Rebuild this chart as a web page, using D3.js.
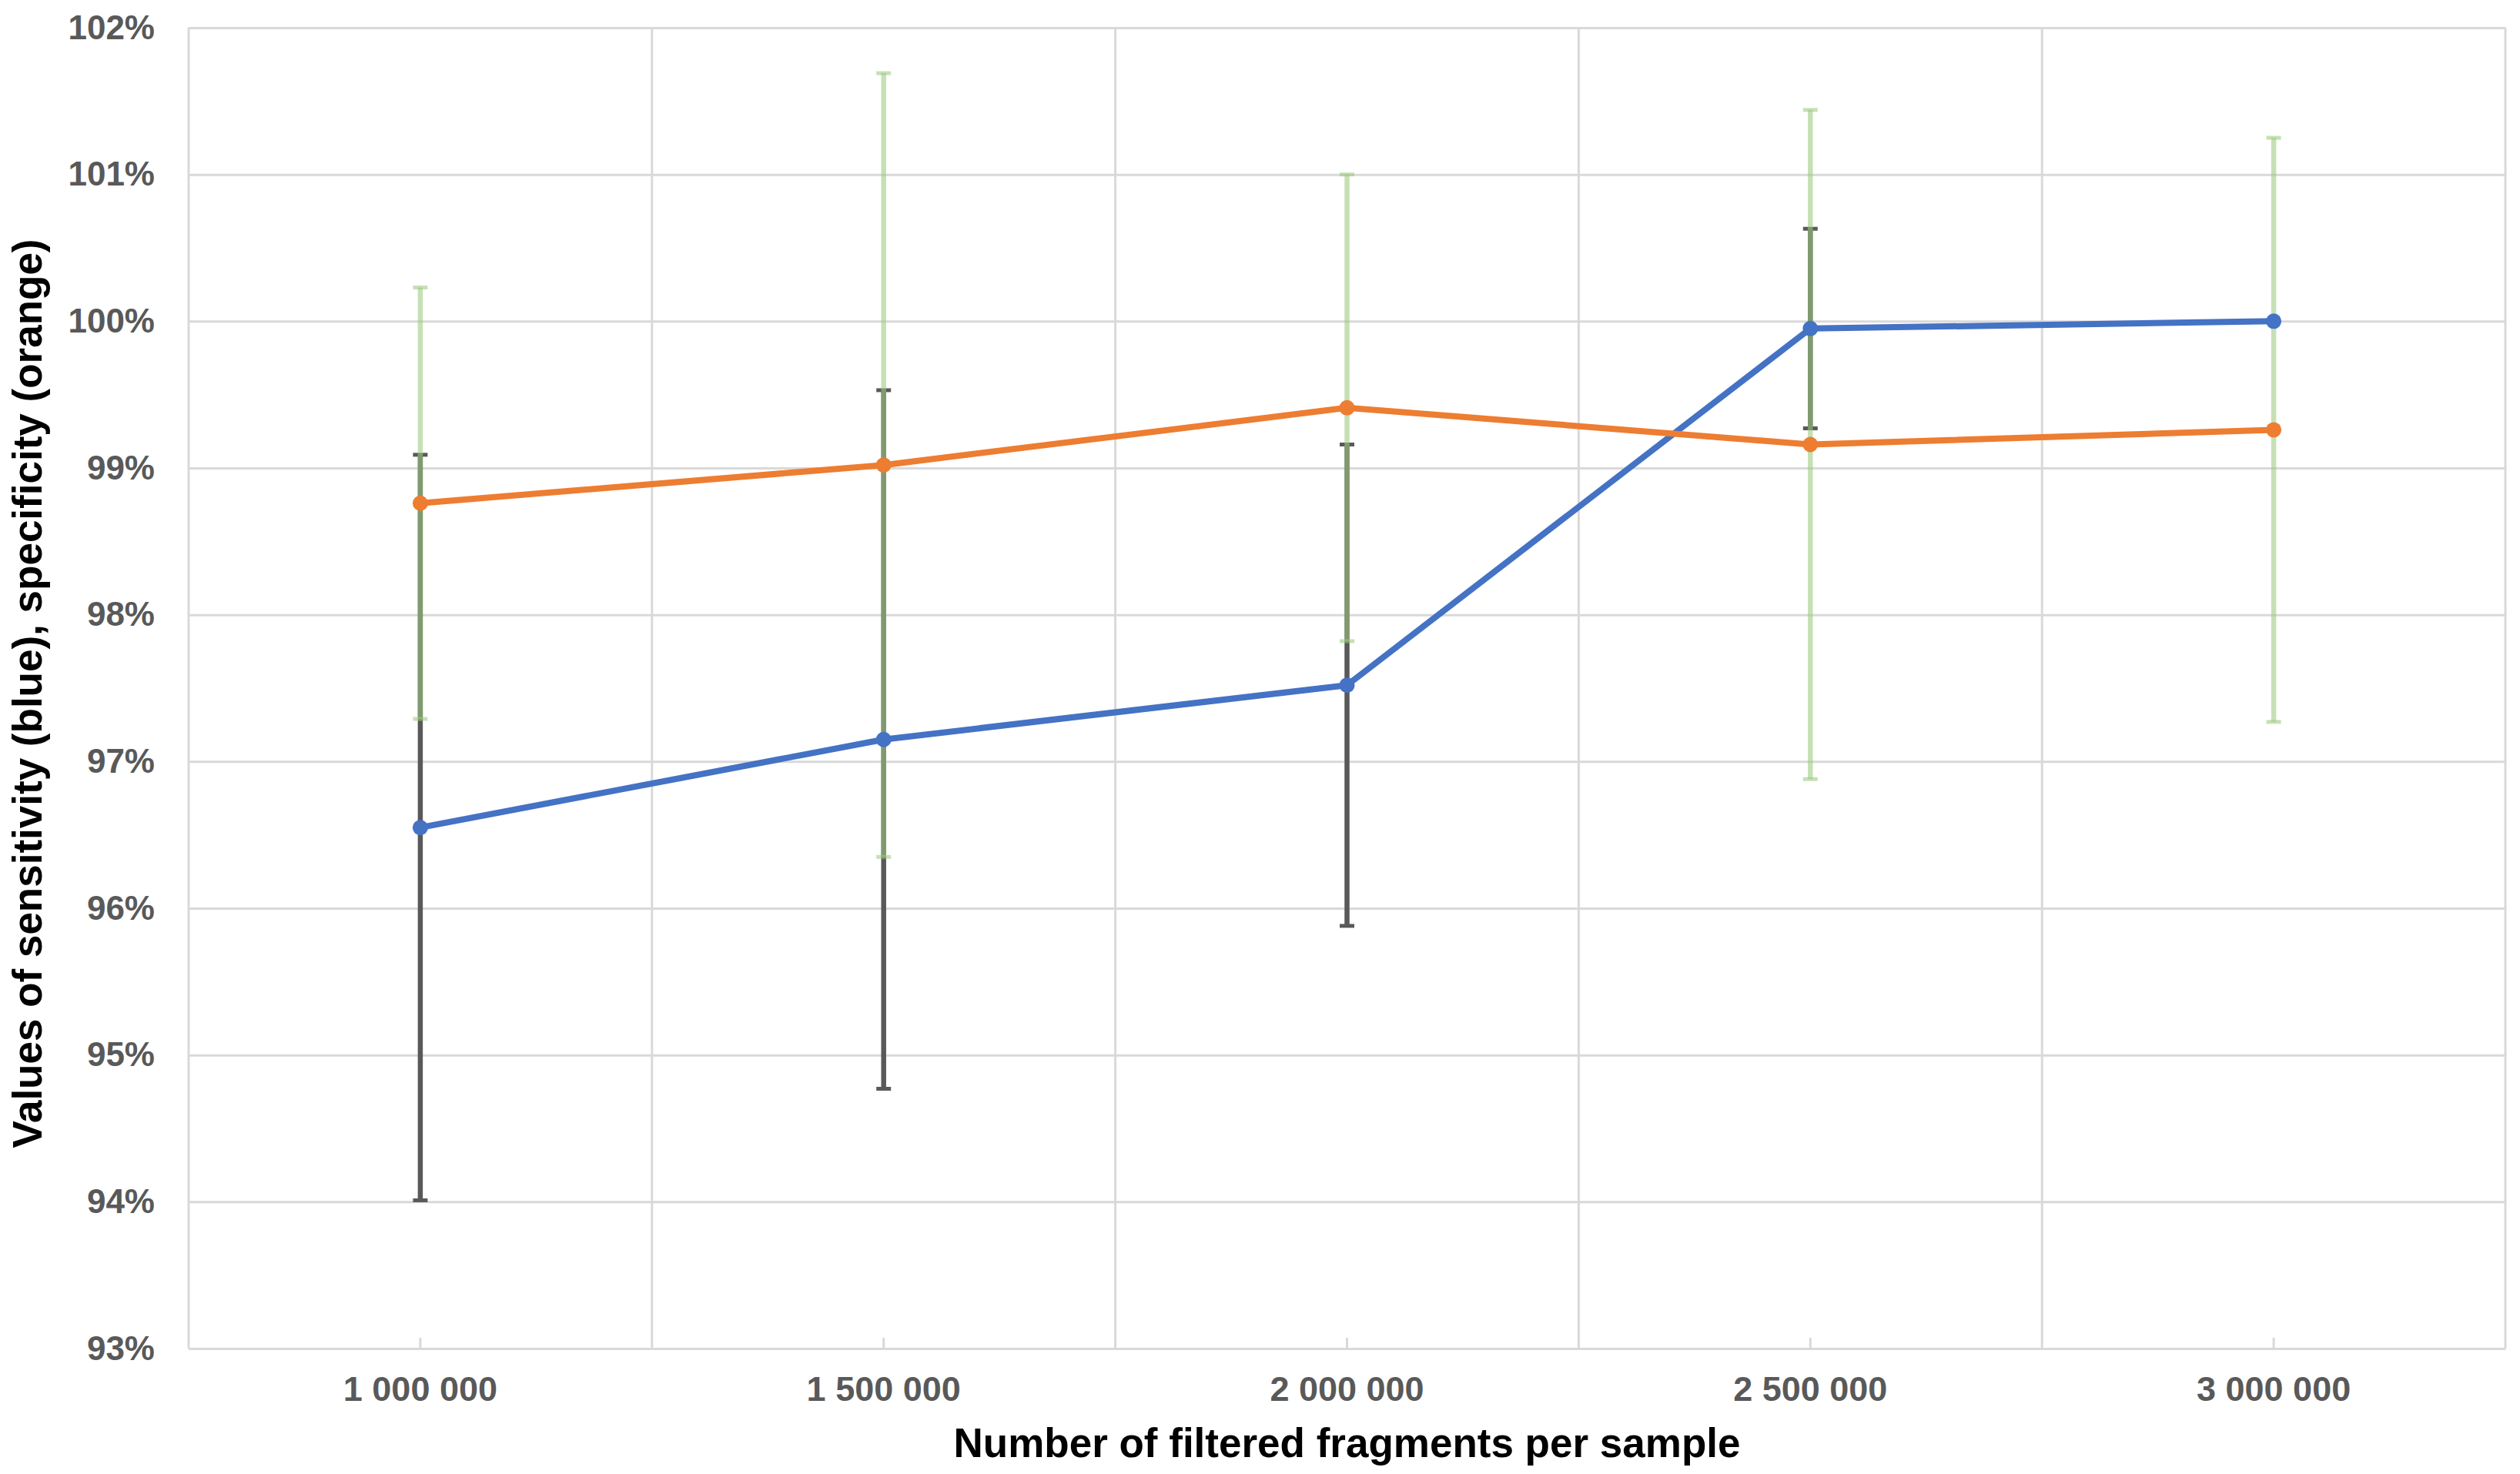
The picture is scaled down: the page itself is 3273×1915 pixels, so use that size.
<!DOCTYPE html>
<html lang="en">

<head>
  <meta charset="UTF-8" />
  <title>Sensitivity and specificity</title>
  <style>
    body {
      margin: 0;
      background: #fff;
    }

    text {
      font-family: "Liberation Sans", Arial, sans-serif;
      font-weight: bold;
    }

    .grid line {
      stroke: #d9d9d9;
      stroke-width: 3px;
    }

    .data-line {
      fill: none;
      stroke-width: 8px;
      stroke-linejoin: round;
    }
  </style>
</head>

<body>

  <script src="https://cdn.jsdelivr.net/npm/d3@7"></script>
  <script>
    // values (percent)
    var categories = ["1 000 000", "1 500 000", "2 000 000", "2 500 000", "3 000 000"];
    var sensitivity = [96.55, 97.15, 97.52, 99.95, 100.0];
    var sensitivityErr = [2.54, 2.38, 1.64, 0.68, 0];
    var specificity = [98.76, 99.02, 99.41, 99.16, 99.26];
    var specificityErr = [1.47, 2.67, 1.59, 2.28, 1.99];
    var yTicks = [93, 94, 95, 96, 97, 98, 99, 100, 101, 102];

    var w = 3273;
    var h = 1915;
    var margin = {
      top: 36,
      right: 19,
      bottom: 163,
      left: 245
    };

    var svg = d3.select("body")
      .append("svg")
      .attr("width", w)
      .attr("height", h);

    svg.append("rect")
      .attr("width", w)
      .attr("height", h)
      .attr("fill", "#fff");

    var xScale = d3.scaleBand()
      .domain(categories)
      .range([margin.left, w - margin.right]);

    var yScale = d3.scaleLinear()
      .domain([93, 102])
      .range([h - margin.bottom, margin.top]);

    function cx(i) {
      return xScale(categories[i]) + xScale.bandwidth() / 2;
    }

    // horizontal gridlines + y labels
    var yAxis = d3.axisLeft(yScale)
      .tickValues(yTicks)
      .tickSize(-(w - margin.left - margin.right))
      .tickPadding(44)
      .tickFormat(function(d) {
        return d + "%";
      });

    var gy = svg.append("g")
      .attr("class", "grid")
      .attr("transform", "translate(" + margin.left + ",0)")
      .call(yAxis);
    gy.select(".domain").remove();
    gy.selectAll("text")
      .attr("fill", "#595959")
      .style("font-size", "44px");

    // vertical gridlines between categories
    var bounds = categories.map(function(d) {
      return xScale(d);
    });
    bounds.push(xScale.range()[1]);

    svg.append("g")
      .attr("class", "grid")
      .selectAll("line")
      .data(bounds)
      .enter()
      .append("line")
      .attr("x1", function(d) { return d; })
      .attr("x2", function(d) { return d; })
      .attr("y1", yScale(102))
      .attr("y2", yScale(93));

    // x axis
    var xAxis = d3.axisBottom(xScale)
      .tickSizeInner(-14)
      .tickSizeOuter(0)
      .tickPadding(36);

    var gx = svg.append("g")
      .attr("class", "grid")
      .attr("transform", "translate(0," + (h - margin.bottom) + ")")
      .call(xAxis);
    gx.select(".domain")
      .attr("stroke", "#d9d9d9")
      .attr("stroke-width", 3);
    gx.selectAll("text")
      .attr("fill", "#595959")
      .style("font-size", "45px");

    // error bars
    function errorBars(values, errs, color, opacity) {
      var g = svg.append("g")
        .attr("stroke", color)
        .attr("stroke-width", 6.5)
        .attr("stroke-opacity", opacity);

      values.forEach(function(v, i) {
        if (errs[i] <= 0) return;
        var x = cx(i);
        var top = yScale(v + errs[i]);
        var bot = yScale(v - errs[i]);
        g.append("line")
          .attr("x1", x).attr("x2", x)
          .attr("y1", top).attr("y2", bot);
        g.append("line")
          .attr("x1", x - 9.5).attr("x2", x + 9.5)
          .attr("y1", top).attr("y2", top)
          .attr("stroke-width", 5);
        g.append("line")
          .attr("x1", x - 9.5).attr("x2", x + 9.5)
          .attr("y1", bot).attr("y2", bot)
          .attr("stroke-width", 5);
      });
    }

    errorBars(sensitivity, sensitivityErr, "#595959", 1);
    errorBars(specificity, specificityErr, "rgb(156,202,127)", 0.58);

    // lines with markers
    var line = d3.line()
      .x(function(d, i) { return cx(i); })
      .y(function(d) { return yScale(d); });

    function series(values, color) {
      svg.append("path")
        .datum(values)
        .attr("class", "data-line")
        .attr("stroke", color)
        .attr("d", line);

      svg.append("g")
        .selectAll("circle")
        .data(values)
        .enter()
        .append("circle")
        .attr("cx", function(d, i) { return cx(i); })
        .attr("cy", function(d) { return yScale(d); })
        .attr("r", 10)
        .attr("fill", color);
    }

    series(sensitivity, "#4472c4");
    series(specificity, "#ed7d31");

    // axis titles
    svg.append("text")
      .attr("x", (margin.left + w - margin.right) / 2)
      .attr("y", 1893)
      .attr("text-anchor", "middle")
      .style("font-size", "53px")
      .attr("fill", "#000")
      .text("Number of filtered fragments per sample");

    svg.append("text")
      .attr("transform", "translate(54," + 901 + ") rotate(-90)")
      .attr("text-anchor", "middle")
      .style("font-size", "53px")
      .attr("fill", "#000")
      .text("Values of sensitivity (blue), specificity (orange)");
  </script>

</body>

</html>
